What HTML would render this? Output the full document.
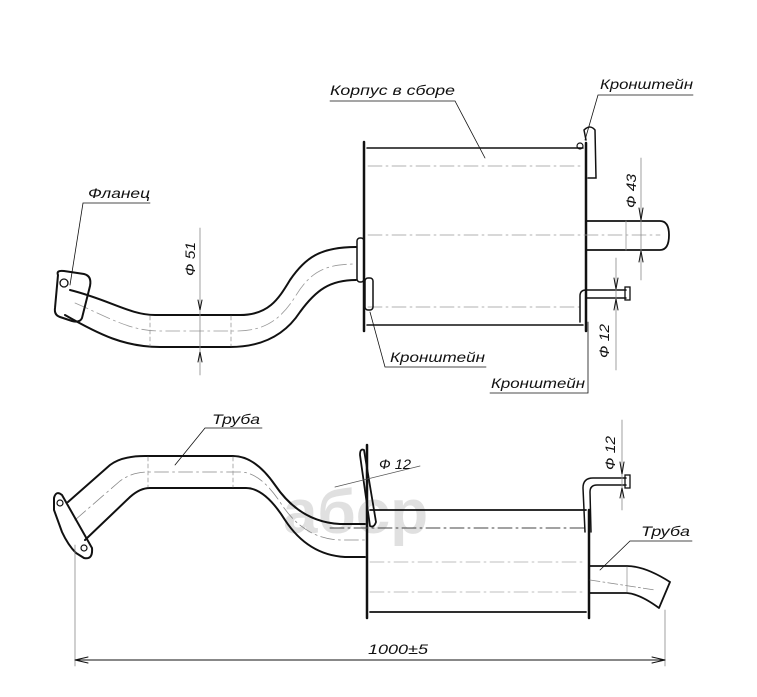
<!DOCTYPE html>
<html><head><meta charset="utf-8"><style>
html,body{margin:0;padding:0;background:#fff}
svg{display:block}
text{font-family:"Liberation Sans","DejaVu Sans",sans-serif;font-style:italic;fill:#111}
</style></head><body>
<svg width="757" height="697" viewBox="0 0 757 697" xmlns="http://www.w3.org/2000/svg">
<!-- watermark -->
<text x="283" y="533" font-size="62" style="font-style:normal;font-weight:bold;fill:#d4d4d4;opacity:0.7">aбcp</text>
<g fill="none" stroke="#111" stroke-linecap="round">
<!-- ===== TOP VIEW ===== -->
<line x1="364" y1="142" x2="364" y2="331" stroke-width="2.5"/>
<line x1="586" y1="143" x2="586" y2="331" stroke-width="2.5"/>
<line x1="367" y1="148" x2="583" y2="148" stroke-width="1.5"/>
<line x1="367" y1="325" x2="583" y2="325" stroke-width="1.5"/>
<g stroke="#999" stroke-width="0.8" stroke-dasharray="14,4,2,4">
<line x1="368" y1="166" x2="582" y2="166"/>
<line x1="368" y1="235" x2="660" y2="235"/>
<line x1="368" y1="307" x2="582" y2="307"/>
</g>
<path d="M587 221 L660 221 Q669 221 669 235 Q669 250 660 250 L587 250" stroke-width="1.8"/>
<line x1="626" y1="221" x2="626" y2="250" stroke="#999" stroke-width="0.8"/>
<path d="M586 140 L584 130 Q590 124 595 130 L596 178 L588 178" stroke-width="1.5"/>
<circle cx="580" cy="146" r="3" stroke-width="1.2"/>
<path d="M580 322 L580 296 Q580 290 586 290 L626 290 M586 298 L626 298" stroke-width="1.5"/>
<rect x="625" y="287" width="5" height="13" stroke-width="1.3"/>
<rect x="357" y="238" width="7" height="44" rx="3" stroke-width="1.5"/>
<rect x="365" y="278" width="8" height="32" rx="3" stroke-width="1.5"/>
<path d="M70 290 C110 300 130 315 155 315 L240 315 C268 315 278 300 290 280 C305 258 320 247 356 247" stroke-width="2"/>
<path d="M65 315 C100 335 125 347 160 347 L230 347 C262 347 285 335 300 312 C316 290 330 280 356 280" stroke-width="2"/>
<path d="M75 303 C110 318 130 331 160 331 L235 331 C265 331 280 320 295 297 C310 272 325 264 356 264" stroke="#999" stroke-width="0.8" stroke-dasharray="14,4,2,4"/>
<line x1="150" y1="316" x2="150" y2="346" stroke="#999" stroke-width="0.8" stroke-dasharray="4,3"/>
<line x1="231" y1="316" x2="231" y2="346" stroke="#999" stroke-width="0.8" stroke-dasharray="4,3"/>
<path d="M58 275 Q56 270 64 271 L84 274 Q92 276 90 286 L82 318 Q80 323 72 321 L60 317 Q54 315 55 308 Z" stroke-width="2"/>
<circle cx="64" cy="283" r="4" stroke-width="1.3"/>
<line x1="200" y1="228" x2="200" y2="375" stroke="#888" stroke-width="0.8"/>
<path d="M198 300 L200 310 L202 300 M198 362 L200 352 L202 362" stroke-width="1"/>
<line x1="641" y1="158" x2="641" y2="280" stroke="#888" stroke-width="0.8"/>
<path d="M639 208 L641 220 L643 208 M639 262 L641 251 L643 262" stroke-width="1"/>
<line x1="616" y1="258" x2="616" y2="370" stroke="#888" stroke-width="0.8"/>
<path d="M614 278 L616 289 L618 278 M614 310 L616 299 L618 310" stroke-width="1"/>
<g stroke-width="0.8">
<path d="M150 203 L83 203 L70 285"/>
<path d="M330 101 L455 101 L485 158"/>
<path d="M693 95 L598 95 L585 140"/>
<path d="M486 367 L385 367 L370 312"/>
<path d="M490 393 L588 393 L588 322"/>
</g>

<!-- ===== BOTTOM VIEW ===== -->
<line x1="367" y1="445" x2="367" y2="618" stroke-width="2.5"/>
<line x1="589" y1="510" x2="589" y2="618" stroke-width="2.5"/>
<line x1="370" y1="510" x2="586" y2="510" stroke-width="1.8"/>
<line x1="370" y1="612" x2="586" y2="612" stroke-width="1.8"/>
<line x1="330" y1="528" x2="586" y2="528" stroke="#444" stroke-width="0.9" stroke-dasharray="14,4,2,4"/>
<g stroke="#aaa" stroke-width="0.8" stroke-dasharray="14,4,2,4">
<line x1="370" y1="562" x2="586" y2="562"/>
<line x1="370" y1="592" x2="586" y2="592"/>
</g>
<path d="M68 502 L110 465 Q122 456 145 456 L233 456 Q255 456 275 485 Q300 522 340 524 L365 524" stroke-width="2"/>
<path d="M85 540 L130 497 Q140 488 150 488 L246 488 Q265 488 285 520 Q308 555 345 557 L365 557" stroke-width="2"/>
<path d="M75 520 L120 481 Q132 472 148 472 L240 472 Q260 472 280 502 Q304 540 342 540 L365 540" stroke="#888" stroke-width="0.8" stroke-dasharray="14,4,2,4"/>
<line x1="148" y1="457" x2="148" y2="487" stroke="#999" stroke-width="0.8" stroke-dasharray="4,3"/>
<line x1="233" y1="457" x2="233" y2="487" stroke="#999" stroke-width="0.8" stroke-dasharray="4,3"/>
<path d="M54 498 Q56 490 62 495 L92 548 Q93 560 84 558 L76 553 Q68 545 62 532 L54 510 Z" stroke-width="2"/>
<circle cx="60" cy="503" r="3" stroke-width="1.2"/>
<circle cx="84" cy="548" r="3" stroke-width="1.2"/>
<path d="M360 455 Q360 448 364 450 L376 522 Q374 528 370 526 Z" stroke-width="1.8"/>
<path d="M585 532 L583 488 Q583 478 593 478 L626 478 M591 532 L590 492 Q590 485 597 485 L626 485" stroke-width="1.5"/>
<rect x="625" y="475" width="5" height="13" stroke-width="1.3"/>
<path d="M590 566 L627 566 Q645 566 670 582 M590 593 L627 593 Q640 594 659 608 M670 582 L659 608" stroke-width="1.8"/>
<line x1="590" y1="580" x2="655" y2="590" stroke="#888" stroke-width="0.8" stroke-dasharray="10,3,2,3"/>
<line x1="627" y1="567" x2="627" y2="592" stroke="#999" stroke-width="0.8"/>
<line x1="335" y1="487" x2="420" y2="466" stroke="#555" stroke-width="0.8"/>
<line x1="622" y1="420" x2="622" y2="510" stroke="#888" stroke-width="0.8"/>
<path d="M620 462 L622 474 L624 462 M620 498 L622 488 L624 498" stroke-width="1"/>
<g stroke-width="0.8">
<path d="M262 428 L205 428 L175 465"/>
<path d="M692 541 L630 541 L600 570"/>
</g>
<line x1="75" y1="545" x2="75" y2="666" stroke="#888" stroke-width="0.8"/>
<line x1="665" y1="610" x2="665" y2="666" stroke="#888" stroke-width="0.8"/>
<line x1="75" y1="660" x2="665" y2="660" stroke-width="1"/>
<path d="M88 657 L75 660 L88 663 M652 657 L665 660 L652 663" stroke-width="1"/>
</g>
<!-- labels -->
<text x="88" y="198" font-size="14" textLength="62" lengthAdjust="spacingAndGlyphs">Фланец</text>
<text x="330" y="95" font-size="14" textLength="125" lengthAdjust="spacingAndGlyphs">Корпус в сборе</text>
<text x="600" y="89" font-size="14" textLength="93" lengthAdjust="spacingAndGlyphs">Кронштейн</text>
<text x="390" y="362" font-size="14" textLength="95" lengthAdjust="spacingAndGlyphs">Кронштейн</text>
<text x="491" y="388" font-size="14" textLength="94" lengthAdjust="spacingAndGlyphs">Кронштейн</text>
<text x="212" y="424" font-size="14" textLength="48" lengthAdjust="spacingAndGlyphs">Труба</text>
<text x="641" y="536" font-size="14" textLength="49" lengthAdjust="spacingAndGlyphs">Труба</text>
<text x="368" y="654" font-size="14" textLength="60" lengthAdjust="spacingAndGlyphs">1000±5</text>
<text x="379" y="469" font-size="14" textLength="32" lengthAdjust="spacingAndGlyphs">Ф 12</text>
<text transform="translate(195,276) rotate(-90)" font-size="14" textLength="34" lengthAdjust="spacingAndGlyphs">Ф 51</text>
<text transform="translate(636,208) rotate(-90)" font-size="14" textLength="34" lengthAdjust="spacingAndGlyphs">Ф 43</text>
<text transform="translate(609,358) rotate(-90)" font-size="14" textLength="34" lengthAdjust="spacingAndGlyphs">Ф 12</text>
<text transform="translate(615,470) rotate(-90)" font-size="14" textLength="34" lengthAdjust="spacingAndGlyphs">Ф 12</text>
</svg>
</body></html>
